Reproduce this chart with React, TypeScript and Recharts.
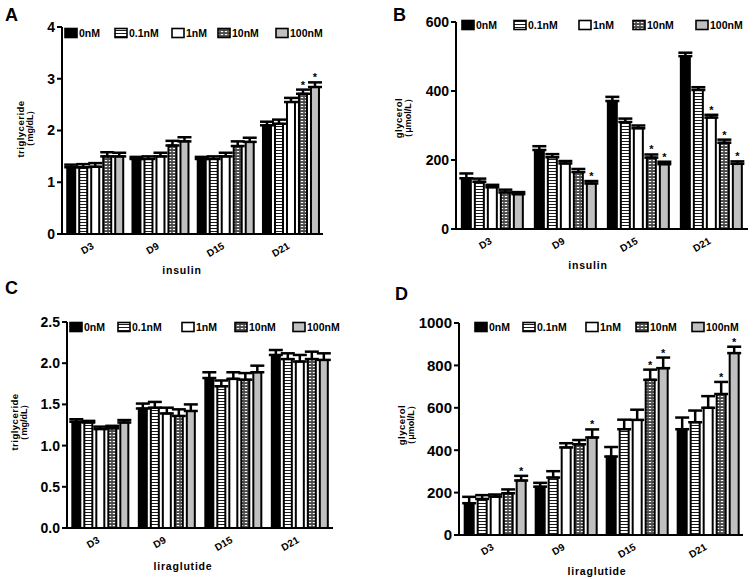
import React from 'react';
import { BarChart, Bar, XAxis, YAxis, ErrorBar, LabelList } from 'recharts';

// ---------- data ----------
const categories = ['D3', 'D9', 'D15', 'D21'];
const seriesNames = ['0nM', '0.1nM', '1nM', '10nM', '100nM'];

// Panel A: insulin, triglyceride (mg/dL)
const triInsulin0 = [1.29, 1.45, 1.45, 2.10];
const triInsulin01 = [1.29, 1.45, 1.45, 2.13];
const triInsulin1 = [1.30, 1.50, 1.50, 2.55];
const triInsulin10 = [1.50, 1.71, 1.70, 2.71];
const triInsulin100 = [1.50, 1.79, 1.78, 2.84];
const triInsulinErr0 = [0.05, 0.04, 0.04, 0.07];
const triInsulinErr01 = [0.06, 0.05, 0.05, 0.08];
const triInsulinErr1 = [0.07, 0.07, 0.07, 0.08];
const triInsulinErr10 = [0.08, 0.09, 0.09, 0.08];
const triInsulinErr100 = [0.07, 0.08, 0.08, 0.09];
const triInsulinStars = [[0, 0, 0, 0], [0, 0, 0, 0], [0, 0, 0, 0], [0, 0, 0, 1], [0, 0, 0, 1]];

// Panel B: insulin, glycerol (umol/L)
const glyInsulin0 = [147, 229, 371, 501];
const glyInsulin01 = [137, 208, 310, 403];
const glyInsulin1 = [121, 190, 292, 323];
const glyInsulin10 = [106, 165, 207, 250];
const glyInsulin100 = [101, 132, 188, 189];
const glyInsulinErr0 = [14, 11, 12, 10];
const glyInsulinErr01 = [9, 9, 10, 8];
const glyInsulinErr1 = [7, 7, 8, 8];
const glyInsulinErr10 = [8, 9, 9, 9];
const glyInsulinErr100 = [6, 7, 7, 7];
const glyInsulinStars = [[0, 0, 0, 0], [0, 0, 0, 0], [0, 0, 0, 1], [0, 0, 1, 1], [0, 1, 1, 1]];

// Panel C: liraglutide, triglyceride (mg/dL)
const triLira0 = [1.29, 1.45, 1.82, 2.10];
const triLira01 = [1.28, 1.46, 1.72, 2.05];
const triLira1 = [1.20, 1.39, 1.81, 2.02];
const triLira10 = [1.21, 1.36, 1.80, 2.05];
const triLira100 = [1.28, 1.42, 1.89, 2.04];
const triLiraErr0 = [0.03, 0.06, 0.07, 0.06];
const triLiraErr01 = [0.02, 0.07, 0.07, 0.07];
const triLiraErr1 = [0.03, 0.07, 0.08, 0.08];
const triLiraErr10 = [0.03, 0.08, 0.08, 0.09];
const triLiraErr100 = [0.03, 0.08, 0.08, 0.08];
const triLiraStars = [[0, 0, 0, 0], [0, 0, 0, 0], [0, 0, 0, 0], [0, 0, 0, 0], [0, 0, 0, 0]];

// Panel D: liraglutide, glycerol (umol/L)
const glyLira0 = [150, 228, 370, 499];
const glyLira01 = [170, 271, 499, 532];
const glyLira1 = [181, 413, 543, 600];
const glyLira10 = [197, 428, 732, 665];
const glyLira100 = [257, 460, 787, 858];
const glyLiraErr0 = [30, 18, 45, 55];
const glyLiraErr01 = [18, 30, 45, 55];
const glyLiraErr1 = [10, 20, 48, 55];
const glyLiraErr10 = [18, 20, 48, 57];
const glyLiraErr100 = [22, 38, 50, 30];
const glyLiraStars = [[0, 0, 0, 0], [0, 0, 0, 0], [0, 0, 0, 0], [0, 0, 1, 1], [1, 1, 1, 1]];

const ticksA = [0, 1, 2, 3, 4];
const ticksB = [0, 200, 400, 600];
const ticksC = [0, 0.5, 1.0, 1.5, 2.0, 2.5];
const ticksD = [0, 200, 400, 600, 800, 1000];

// ---------- styling ----------
const FONT = "Arial, 'Liberation Sans', Helvetica, sans-serif";
const fills = ['#000000', 'url(#pStripe)', '#ffffff', 'url(#pGrid)', '#c0c0c0'];

const panels = [
  {
    letter: 'A', letterX: 5, letterY: 21,
    means: [triInsulin0, triInsulin01, triInsulin1, triInsulin10, triInsulin100],
    errs: [triInsulinErr0, triInsulinErr01, triInsulinErr1, triInsulinErr10, triInsulinErr100],
    stars: triInsulinStars, ticks: ticksA, domain: [0, 4], fmt: (v: number) => String(v), tickFont: 14,
    box: { left: 0, top: 0, w: 376, h: 290 }, plot: { l: 62, t: 27, r: 323, b: 234 },
    legendX: [3, 53, 110, 156, 214], legendY: 33,
    xTitle: 'insulin', xTitleX: 182, xTitleY: 274,
    yTitle1: 'triglyceride', yTitle2: '（mg/dL）', yT1: [20, 129], yT2: [30, 128],
  },
  {
    letter: 'B', letterX: 393, letterY: 21,
    means: [glyInsulin0, glyInsulin01, glyInsulin1, glyInsulin10, glyInsulin100],
    errs: [glyInsulinErr0, glyInsulinErr01, glyInsulinErr1, glyInsulinErr10, glyInsulinErr100],
    stars: glyInsulinStars, ticks: ticksB, domain: [0, 600], fmt: (v: number) => String(v), tickFont: 14,
    box: { left: 376, top: 0, w: 377, h: 290 }, plot: { l: 456, t: 22, r: 748, b: 229 },
    legendX: [6, 58, 123, 177, 240], legendY: 25,
    xTitle: 'insulin', xTitleX: 588, xTitleY: 269,
    yTitle1: 'glycerol', yTitle2: '（μmol/L）', yT1: [398, 118], yT2: [408, 118],
  },
  {
    letter: 'C', letterX: 5, letterY: 294,
    means: [triLira0, triLira01, triLira1, triLira10, triLira100],
    errs: [triLiraErr0, triLiraErr01, triLiraErr1, triLiraErr10, triLiraErr100],
    stars: triLiraStars, ticks: ticksC, domain: [0, 2.5], fmt: (v: number) => v.toFixed(1), tickFont: 14,
    box: { left: 0, top: 290, w: 376, h: 289 }, plot: { l: 67, t: 322, r: 333, b: 528 },
    legendX: [3, 51, 115, 168, 226], legendY: 327,
    xTitle: 'liraglutide', xTitleX: 183, xTitleY: 570,
    yTitle1: 'triglyceride', yTitle2: '（mg/dL）', yT1: [14, 422], yT2: [24, 422],
  },
  {
    letter: 'D', letterX: 395, letterY: 300,
    means: [glyLira0, glyLira01, glyLira1, glyLira10, glyLira100],
    errs: [glyLiraErr0, glyLiraErr01, glyLiraErr1, glyLiraErr10, glyLiraErr100],
    stars: glyLiraStars, ticks: ticksD, domain: [0, 1000], fmt: (v: number) => String(v), tickFont: 15,
    box: { left: 376, top: 290, w: 377, h: 289 }, plot: { l: 459, t: 323, r: 743, b: 535 },
    legendX: [16, 64, 127, 177, 233], legendY: 327,
    xTitle: 'liraglutide', xTitleX: 597, xTitleY: 575,
    yTitle1: 'glycerol', yTitle2: '（μmol/L）', yT1: [401, 425], yT2: [411, 425],
  },
];

const X_AXIS_H = 30;

function Panel({ cfg }: { cfg: any }) {
  const rows = categories.map((c, i) => {
    const r: any = { cat: c };
    cfg.means.forEach((m: number[], k: number) => {
      r['v' + k] = m[i];
      r['e' + k] = [0, cfg.errs[k][i]];
      r['s' + k] = cfg.stars[k][i];
    });
    return r;
  });
  const { box, plot } = cfg;
  const margin = {
    top: plot.t - box.top,
    right: box.left + box.w - plot.r,
    left: 0,
    bottom: box.top + box.h - plot.b - X_AXIS_H,
  };
  const axisYLocal = plot.b - box.top;
  const starContent = (k: number) => (props: any) => {
    const { x, y, width, height, value, index } = props;
    if (!value) return null;
    const v = cfg.means[k][index];
    const e = cfg.errs[k][index];
    const pxPer = Math.abs(height) / v;
    const top = y - e * pxPer;
    return (
      <text x={x + width / 2} y={top - 1} textAnchor="middle" fontSize={11} fontWeight="bold" fontFamily={FONT} fill="#000">
        *
      </text>
    );
  };
  const renderTick = (props: any) => {
    const { x, payload } = props;
    const ay = axisYLocal + 14;
    return (
      <g>
        <text
          x={x}
          y={ay}
          textAnchor="end"
          fontSize={10}
          fontWeight="bold"
          fontFamily={FONT}
          fill="#000"
          transform={`rotate(-30, ${x}, ${ay})`}
        >
          {payload.value}
        </text>
      </g>
    );
  };
  return (
    <div style={{ position: 'absolute', left: box.left, top: box.top, width: box.w, height: box.h }}>
      <BarChart width={box.w} height={box.h} data={rows} margin={margin} barCategoryGap="8%" barGap={4}>
        <XAxis
          dataKey="cat"
          height={X_AXIS_H}
          interval={0}
          tickLine={false}
          axisLine={{ stroke: '#000', strokeWidth: 2 }}
          tick={renderTick}
        />
        <YAxis
          width={plot.l - box.left}
          domain={cfg.domain}
          ticks={cfg.ticks}
          interval={0}
          allowDataOverflow
          tickFormatter={cfg.fmt}
          tickSize={5}
          tickLine={{ stroke: '#000', strokeWidth: 2 }}
          axisLine={{ stroke: '#000', strokeWidth: 2 }}
          tick={{ fontSize: cfg.tickFont, fontWeight: 'bold', fill: '#000', fontFamily: FONT }}
        />
        {seriesNames.map((name, k) => (
          <Bar key={name} dataKey={'v' + k} name={name} fill={fills[k]} stroke="#000" strokeWidth={2} isAnimationActive={false}>
            <ErrorBar dataKey={'e' + k} direction="y" width={7} strokeWidth={2.5} stroke="#000" isAnimationActive={false} />
            <LabelList dataKey={'s' + k} content={starContent(k)} />
          </Bar>
        ))}
      </BarChart>
    </div>
  );
}

function Overlay() {
  return (
    <svg width={753} height={579} style={{ position: 'absolute', left: 0, top: 0, pointerEvents: 'none' }}>
      <defs>
        <pattern id="pStripe" patternUnits="userSpaceOnUse" width={4} height={3}>
          <rect x={0} y={0} width={4} height={3} fill="#ffffff" />
          <rect x={0} y={0} width={4} height={1} fill="#1a1a1a" />
        </pattern>
        <pattern id="pGrid" patternUnits="userSpaceOnUse" width={4} height={3}>
          <rect x={0} y={0} width={4} height={3} fill="#4a4a4a" />
          <rect x={0.8} y={1} width={2.4} height={1.1} fill="#ffffff" />
        </pattern>
      </defs>
      {panels.map((cfg) => (
        <g key={cfg.letter} fontFamily={FONT} fill="#000">
          <text x={cfg.letterX} y={cfg.letterY} fontSize={18} fontWeight="bold">{cfg.letter}</text>
          {seriesNames.map((name, k) => {
            const x = cfg.plot.l + cfg.legendX[k];
            const y = cfg.legendY;
            return (
              <g key={name}>
                <rect x={x} y={y - 4.5} width={12} height={9} fill={fills[k]} stroke="#000" strokeWidth={1.6} />
                <text x={x + 14} y={y + 4} fontSize={10.5} fontWeight="bold">{name}</text>
              </g>
            );
          })}
          <text x={cfg.xTitleX} y={cfg.xTitleY} fontSize={10.5} fontWeight="bold" textAnchor="middle" letterSpacing={0.8}>
            {cfg.xTitle}
          </text>
          <text
            x={cfg.yT1[0]}
            y={cfg.yT1[1]}
            fontSize={9.5}
            fontWeight="bold"
            textAnchor="middle"
            dominantBaseline="central"
            letterSpacing={0.5}
            transform={`rotate(-90 ${cfg.yT1[0]} ${cfg.yT1[1]})`}
          >
            {cfg.yTitle1}
          </text>
          <text
            x={cfg.yT2[0]}
            y={cfg.yT2[1]}
            fontSize={9}
            fontWeight="bold"
            textAnchor="middle"
            dominantBaseline="central"
            transform={`rotate(-90 ${cfg.yT2[0]} ${cfg.yT2[1]})`}
          >
            {cfg.yTitle2}
          </text>
        </g>
      ))}
    </svg>
  );
}

export default function App() {
  return (
    <div style={{ position: 'fixed', left: 0, top: 0, width: 753, height: 579, background: '#fff', overflow: 'hidden' }}>
      {panels.map((cfg) => (
        <Panel key={cfg.letter} cfg={cfg} />
      ))}
      <Overlay />
    </div>
  );
}
